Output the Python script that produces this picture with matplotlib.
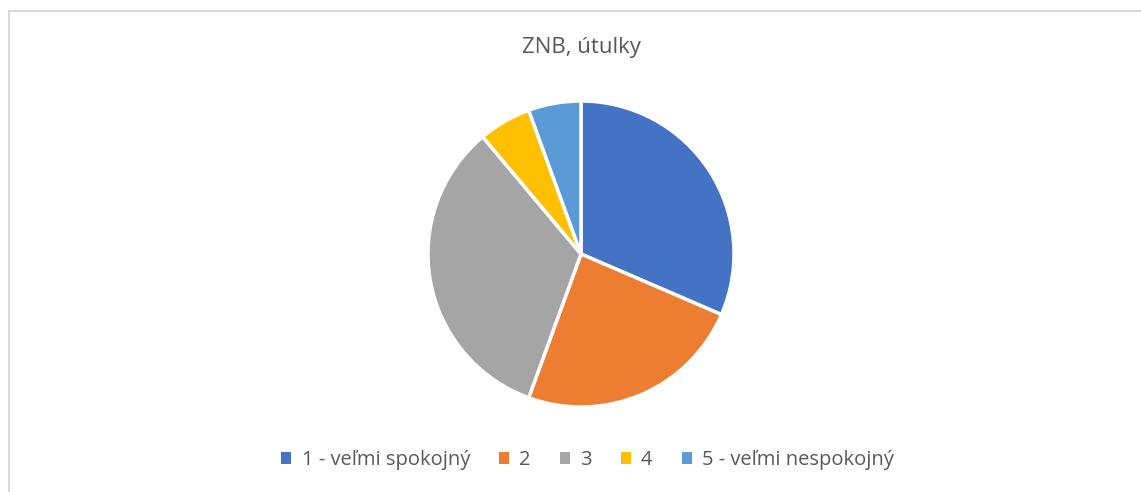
import matplotlib.pyplot as plt
from matplotlib.lines import Line2D
from matplotlib.patches import Patch

labels = ["1 - veľmi spokojný", "2", "3", "4", "5 - veľmi nespokojný"]
counts = [17, 13, 18, 3, 3]
colors = ["#4472C4", "#ED7D31", "#A5A5A5", "#FFC000", "#5B9BD5"]

W, H = 1141, 492
fig = plt.figure(figsize=(W / 100, H / 100), dpi=100)
plt.rcParams['font.family'] = ['Open Sans', 'DejaVu Sans']

# rámik grafu
fig.add_artist(Line2D([8.5 / W, 1], [1 - 10.5 / H] * 2, transform=fig.transFigure,
                      color="#d9d9d9", lw=1.5))
fig.add_artist(Line2D([8.5 / W] * 2, [0, 1 - 10.5 / H], transform=fig.transFigure,
                      color="#d9d9d9", lw=1.5))

cx, cy, r = 581, 254, 153
ax = fig.add_axes([(cx - r) / W, (H - cy - r) / H, 2 * r / W, 2 * r / H])
ax.pie(counts, colors=colors, startangle=90, counterclock=False, radius=1,
       wedgeprops=dict(edgecolor="white", linewidth=2.5))
ax.set_xlim(-1, 1)
ax.set_ylim(-1, 1)
ax.set_aspect("equal")
ax.axis("off")

fig.text(cx / W, 1 - 48 / H, "ZNB, útulky", ha="center", va="center",
         fontsize=16, color="#595959")

handles = [Patch(facecolor=c) for c in colors]
fig.legend(handles, labels, loc="center", bbox_to_anchor=(0.515, 1 - 460 / H),
           ncol=5, frameon=False, fontsize=14.5, labelcolor="#595959",
           handlelength=0.5, handleheight=0.5, handletextpad=0.5, columnspacing=1.45)

fig.savefig("out.png", dpi=100)
